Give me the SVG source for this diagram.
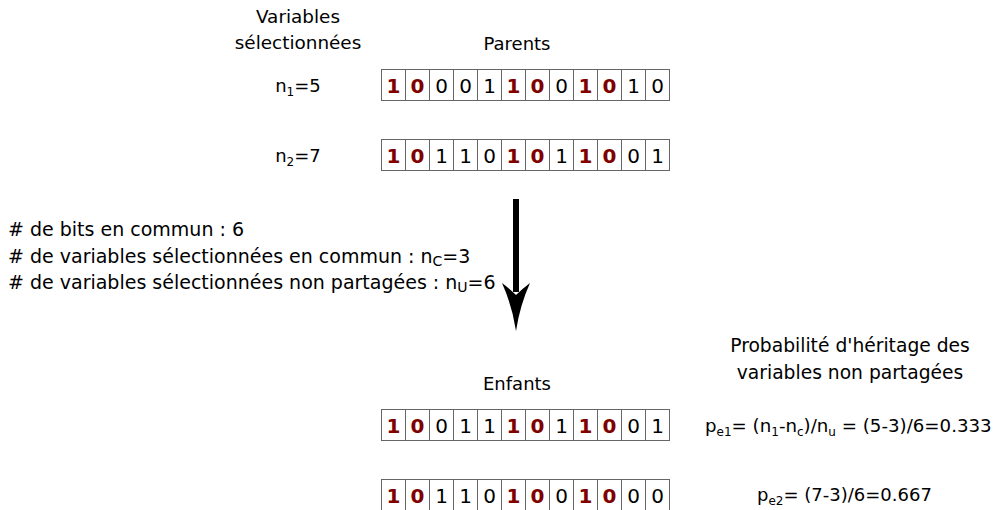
<svg xmlns="http://www.w3.org/2000/svg" width="999" height="510" viewBox="0 0 999 510">
<style>
text{font-family:"DejaVu Sans","Noto Sans",sans-serif;fill:#000}
.lbl{font-size:18px}
.st{font-size:19px}
.pr{font-size:18.7px}
.c{text-anchor:middle}
.cell{fill:#fff;stroke:#666;stroke-width:1}
.d{font-size:20px;text-anchor:middle}
.b{font-weight:bold;fill:#800000}
.sub{font-size:12px}
.sub2{font-size:14px}
</style>
<defs>
<g id="cells">
<rect class="cell" x="0" y="0" width="24" height="31"/>
<rect class="cell" x="24" y="0" width="24" height="31"/>
<rect class="cell" x="48" y="0" width="24" height="31"/>
<rect class="cell" x="72" y="0" width="24" height="31"/>
<rect class="cell" x="96" y="0" width="24" height="31"/>
<rect class="cell" x="120" y="0" width="24" height="31"/>
<rect class="cell" x="144" y="0" width="24" height="31"/>
<rect class="cell" x="168" y="0" width="24" height="31"/>
<rect class="cell" x="192" y="0" width="24" height="31"/>
<rect class="cell" x="216" y="0" width="24" height="31"/>
<rect class="cell" x="240" y="0" width="24" height="31"/>
<rect class="cell" x="264" y="0" width="24" height="31"/>
</g>
</defs>
<rect width="999" height="510" fill="#fff"/>

<g id="label-variables">
<text class="lbl c" x="298" y="23" style="font-size:18.4px">Variables</text>
<text class="lbl c" x="298" y="49" style="font-size:18.4px">sélectionnées</text>
</g>
<g id="label-parents"><text class="lbl c" x="517" y="50">Parents</text></g>
<g id="label-n1"><text class="lbl c" x="298" y="92">n<tspan class="sub" dy="4">1</tspan><tspan dy="-4">=5</tspan></text></g>
<g id="label-n2"><text class="lbl c" x="298" y="162">n<tspan class="sub" dy="4">2</tspan><tspan dy="-4">=7</tspan></text></g>

<g id="parent1" transform="translate(381.5,69.5)">
<use href="#cells"/>
<text class="d b" x="12" y="23">1</text><text class="d b" x="36" y="23">0</text><text class="d" x="60" y="23">0</text><text class="d" x="84" y="23">0</text><text class="d" x="108" y="23">1</text><text class="d b" x="132" y="23">1</text><text class="d b" x="156" y="23">0</text><text class="d" x="180" y="23">0</text><text class="d b" x="204" y="23">1</text><text class="d b" x="228" y="23">0</text><text class="d" x="252" y="23">1</text><text class="d" x="276" y="23">0</text>
</g>
<g id="parent2" transform="translate(381.5,139.5)">
<use href="#cells"/>
<text class="d b" x="12" y="23">1</text><text class="d b" x="36" y="23">0</text><text class="d" x="60" y="23">1</text><text class="d" x="84" y="23">1</text><text class="d" x="108" y="23">0</text><text class="d b" x="132" y="23">1</text><text class="d b" x="156" y="23">0</text><text class="d" x="180" y="23">1</text><text class="d b" x="204" y="23">1</text><text class="d b" x="228" y="23">0</text><text class="d" x="252" y="23">0</text><text class="d" x="276" y="23">1</text>
</g>

<g id="stats">
<text class="st" x="8" y="236"># de bits en commun : 6</text>
<text class="st" x="8" y="263"># de variables sélectionnées en commun : n<tspan class="sub2" dy="3">C</tspan><tspan dy="-3">=3</tspan></text>
<text class="st" x="8" y="289"># de variables sélectionnées non partagées : n<tspan class="sub2" dy="3">U</tspan><tspan dy="-3">=6</tspan></text>
</g>

<g id="connectors">
<line x1="516" y1="199" x2="516" y2="292" stroke="#000" stroke-width="6"/>
<path d="M516,331 Q512,305 502,283 Q510,289 516,295 Q522,289 530,283 Q520,305 516,331 Z" fill="#000"/>
</g>

<g id="label-enfants"><text class="lbl c" x="517" y="390">Enfants</text></g>
<g id="label-proba">
<text class="pr c" x="850" y="352">Probabilité d'héritage des</text>
<text class="pr c" x="850" y="379">variables non partagées</text>
</g>

<g id="child1" transform="translate(381.5,409.5)">
<use href="#cells"/>
<text class="d b" x="12" y="23">1</text><text class="d b" x="36" y="23">0</text><text class="d" x="60" y="23">0</text><text class="d" x="84" y="23">1</text><text class="d" x="108" y="23">1</text><text class="d b" x="132" y="23">1</text><text class="d b" x="156" y="23">0</text><text class="d" x="180" y="23">1</text><text class="d b" x="204" y="23">1</text><text class="d b" x="228" y="23">0</text><text class="d" x="252" y="23">0</text><text class="d" x="276" y="23">1</text>
</g>
<g id="child2" transform="translate(381.5,479.5)">
<use href="#cells"/>
<text class="d b" x="12" y="23">1</text><text class="d b" x="36" y="23">0</text><text class="d" x="60" y="23">1</text><text class="d" x="84" y="23">1</text><text class="d" x="108" y="23">0</text><text class="d b" x="132" y="23">1</text><text class="d b" x="156" y="23">0</text><text class="d" x="180" y="23">0</text><text class="d b" x="204" y="23">1</text><text class="d b" x="228" y="23">0</text><text class="d" x="252" y="23">0</text><text class="d" x="276" y="23">0</text>
</g>

<g id="formula1"><text class="lbl" x="705" y="432" style="font-size:18.2px">p<tspan class="sub" dy="4">e1</tspan><tspan dy="-4">= (n</tspan><tspan class="sub" dy="4">1</tspan><tspan dy="-4">-n</tspan><tspan class="sub" dy="4">c</tspan><tspan dy="-4">)/n</tspan><tspan class="sub" dy="4">u</tspan><tspan dy="-4"> = (5-3)/6=0.333</tspan></text></g>
<g id="formula2"><text class="lbl" x="757" y="501">p<tspan class="sub" dy="4">e2</tspan><tspan dy="-4">= (7-3)/6=0.667</tspan></text></g>
</svg>
